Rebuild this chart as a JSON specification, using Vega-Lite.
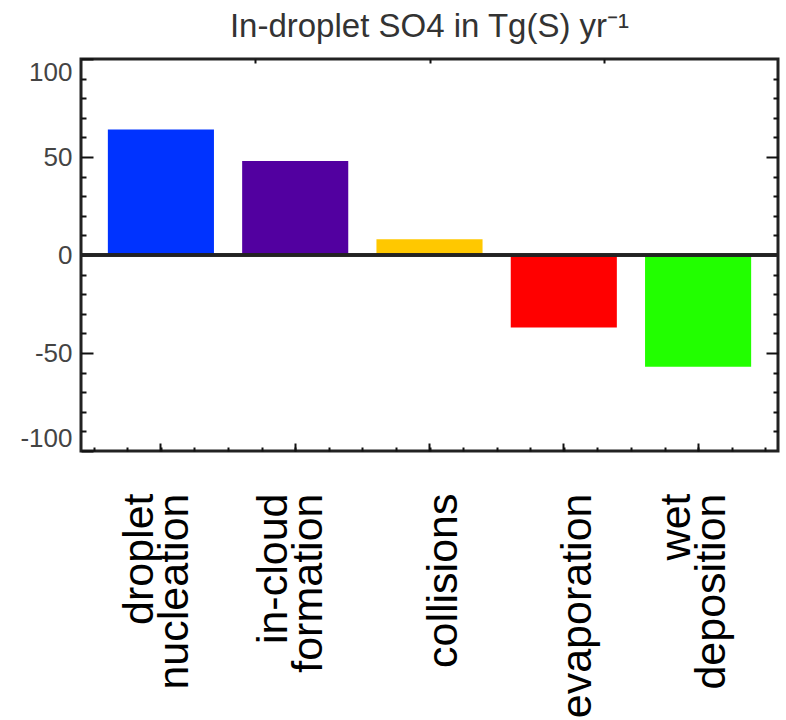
{
  "$schema": "https://vega.github.io/schema/vega-lite/v6.json",
  "autosize": "none",
  "padding": {"left": 81, "top": 59, "right": 8, "bottom": 269},
  "width": 697,
  "height": 392,
  "background": "white",
  "config": {
    "view": {"stroke": "#222", "strokeWidth": 3},
    "axis": {"domain": false, "grid": false, "tickColor": "#111", "tickWidth": 2, "labelFont": "Liberation Sans"}
  },
  "title": {
    "text": "In-droplet SO4 in Tg(S) yr⁻¹",
    "font": "Liberation Sans",
    "fontSize": 33,
    "fontWeight": "normal",
    "color": "#333",
    "offset": 14,
    "anchor": "middle"
  },
  "data": {
    "values": [
      {"process": "droplet nucleation", "value": 64},
      {"process": "in-cloud formation", "value": 48},
      {"process": "collisions", "value": 8},
      {"process": "evaporation", "value": -37},
      {"process": "wet deposition", "value": -57}
    ]
  },
  "layer": [
    {
      "mark": {"type": "bar"},
      "encoding": {
        "x": {
          "field": "process",
          "type": "nominal",
          "sort": null,
          "scale": {"paddingInner": 0.21, "paddingOuter": 0.2},
          "axis": {
            "title": null,
            "orient": "bottom",
            "labelAngle": -90,
            "labelAlign": "right",
            "labelBaseline": "bottom",
            "labelOffset": 1,
            "labelFontSize": 43,
            "labelLineHeight": 35,
            "labelColor": "#000",
            "labelLimit": 0,
            "labelOverlap": false,
            "labelPadding": 50,
            "tickSize": -8,
            "labelExpr": "length(split(datum.label, ' ')) > 1 ? split(datum.label, ' ') : ['', datum.label]"
          }
        },
        "y": {
          "field": "value",
          "type": "quantitative",
          "scale": {"domain": [-100, 100], "nice": false, "zero": false},
          "axis": {
            "title": null,
            "orient": "left",
            "values": [-100, -50, 0, 50, 100],
            "tickSize": -12,
            "labelPadding": 21,
            "labelFontSize": 26,
            "labelColor": "#444",
            "labelFlush": true,
            "labelExpr": "toString(datum.value)"
          }
        },
        "color": {
          "field": "process",
          "type": "nominal",
          "sort": null,
          "legend": null,
          "scale": {
            "domain": ["droplet nucleation", "in-cloud formation", "collisions", "evaporation", "wet deposition"],
            "range": ["#0033FF", "#5200A0", "#FFC800", "#FF0000", "#22FF00"]
          }
        }
      }
    },
    {
      "mark": {"type": "rule", "stroke": "#222", "strokeWidth": 3},
      "encoding": {
        "y": {"datum": 0, "type": "quantitative", "scale": {"domain": [-100, 100], "nice": false, "zero": false}, "axis": null}
      }
    },
    {
      "mark": {"type": "point", "opacity": 0},
      "encoding": {
        "x": {
          "datum": 0,
          "type": "quantitative",
          "scale": {"domain": [-0.595, 4.595], "nice": false, "zero": false},
          "axis": {
            "title": null,
            "orient": "bottom",
            "labels": false,
            "tickSize": -4,
            "values": [-0.5, -0.25, 0, 0.25, 0.5, 0.75, 1, 1.25, 1.5, 1.75, 2, 2.25, 2.5, 2.75, 3, 3.25, 3.5, 3.75, 4, 4.25, 4.5]
          }
        },
        "y": {
          "datum": 0,
          "type": "quantitative",
          "scale": {"domain": [-100, 100], "nice": false, "zero": false},
          "axis": {"title": null, "orient": "right", "labels": false, "tickSize": -12, "values": [-50, 50]}
        }
      }
    },
    {
      "mark": {"type": "point", "opacity": 0},
      "encoding": {
        "x": {
          "datum": 0,
          "type": "quantitative",
          "scale": {"domain": [0, 4], "nice": false, "zero": false},
          "axis": {"title": null, "orient": "top", "labels": false, "tickSize": -4, "values": [1, 2, 3]}
        },
        "y": {
          "datum": 0,
          "type": "quantitative",
          "scale": {"domain": [-100, 100], "nice": false, "zero": false},
          "axis": {"title": null, "orient": "left", "labels": false, "tickSize": -5, "values": [-90, -80, -70, -60, -40, -30, -20, -10, 10, 20, 30, 40, 60, 70, 80, 90]}
        }
      }
    },
    {
      "mark": {"type": "point", "opacity": 0},
      "encoding": {
        "y": {
          "datum": 0,
          "type": "quantitative",
          "scale": {"domain": [-100, 100], "nice": false, "zero": false},
          "axis": {"title": null, "orient": "right", "labels": false, "tickSize": -5, "values": [-90, -80, -70, -60, -40, -30, -20, -10, 10, 20, 30, 40, 60, 70, 80, 90]}
        }
      }
    }
  ],
  "resolve": {
    "scale": {"x": "independent", "y": "shared"},
    "axis": {"x": "independent", "y": "independent"}
  }
}
